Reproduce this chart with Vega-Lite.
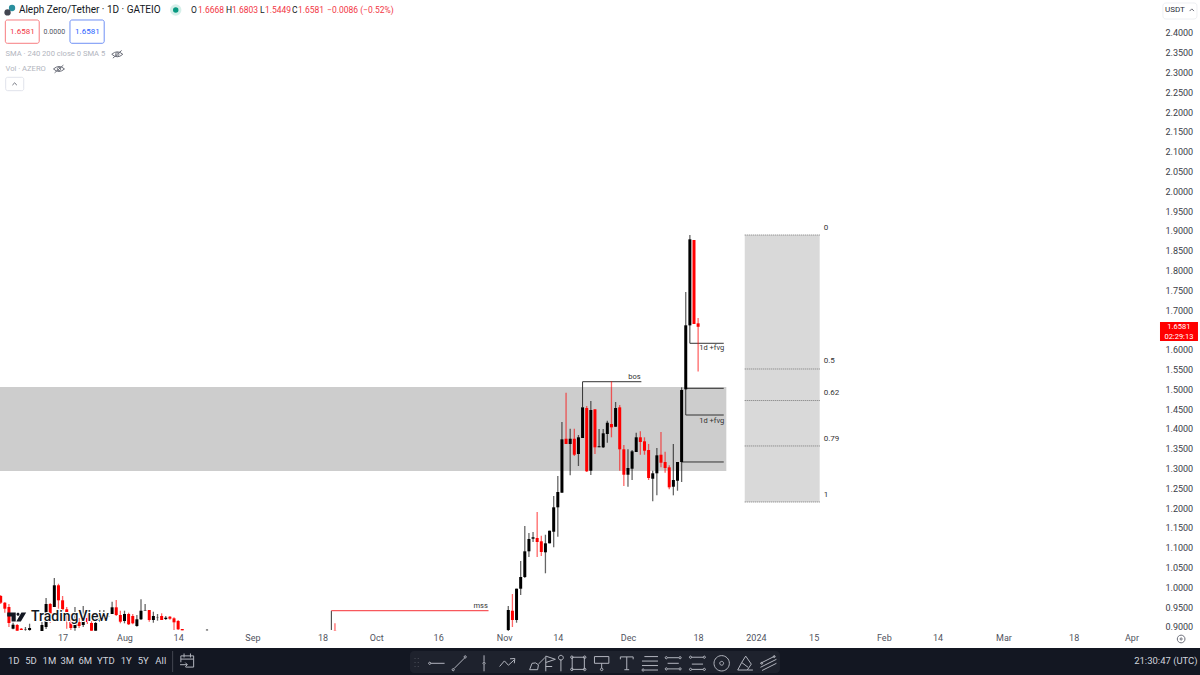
{
"$schema":"https://vega.github.io/schema/vega-lite/v6.json",
"width":1155,"height":630,
"autosize":{"type":"none"},
"padding":{"left":0,"top":0,"right":45,"bottom":45},
"background":"#ffffff",
"config":{"view":{"stroke":null},"text":{"font":"Roboto"},"axis":{"labelFont":"Roboto"}},
"datasets":{
"candles":[
{"date":"2023-07-02T00:00","o":0.9783,"h":0.9808,"l":0.9581,"c":0.9613,"dir":"down"},
{"date":"2023-07-03T00:00","o":0.9613,"h":0.9631,"l":0.9361,"c":0.9462,"dir":"down"},
{"date":"2023-07-04T00:00","o":0.9505,"h":0.9581,"l":0.9000,"c":0.9101,"dir":"down"},
{"date":"2023-07-05T00:00","o":0.8957,"h":0.9108,"l":0.8942,"c":0.9058,"dir":"up"},
{"date":"2023-07-06T00:00","o":0.9050,"h":0.9076,"l":0.8906,"c":0.8906,"dir":"down"},
{"date":"2023-07-07T00:00","o":0.8957,"h":0.8974,"l":0.8924,"c":0.8924,"dir":"down"},
{"date":"2023-07-08T00:00","o":0.8924,"h":0.9000,"l":0.8906,"c":0.8932,"dir":"up"},
{"date":"2023-07-09T00:00","o":0.8924,"h":0.9083,"l":0.8906,"c":0.8974,"dir":"up"},
{"date":"2023-07-12T00:00","o":0.8899,"h":0.9126,"l":0.8899,"c":0.9050,"dir":"up"},
{"date":"2023-07-13T00:00","o":0.9000,"h":0.9732,"l":0.8949,"c":0.9581,"dir":"up"},
{"date":"2023-07-14T00:00","o":0.9581,"h":0.9606,"l":0.9108,"c":0.9336,"dir":"down"},
{"date":"2023-07-15T00:00","o":0.9505,"h":1.0237,"l":0.9505,"c":1.0053,"dir":"up"},
{"date":"2023-07-16T00:00","o":1.0053,"h":1.0093,"l":0.9462,"c":0.9674,"dir":"down"},
{"date":"2023-07-17T00:00","o":0.9674,"h":0.9783,"l":0.9404,"c":0.9447,"dir":"down"},
{"date":"2023-07-18T00:00","o":0.9447,"h":0.9505,"l":0.8957,"c":0.9303,"dir":"down"},
{"date":"2023-07-19T00:00","o":0.9303,"h":0.9323,"l":0.8924,"c":0.8974,"dir":"down"},
{"date":"2023-07-20T00:00","o":0.8974,"h":0.9505,"l":0.8906,"c":0.9101,"dir":"up"},
{"date":"2023-07-21T00:00","o":0.9126,"h":0.9227,"l":0.8974,"c":0.9025,"dir":"down"},
{"date":"2023-07-22T00:00","o":0.9050,"h":0.9530,"l":0.9000,"c":0.9151,"dir":"up"},
{"date":"2023-07-23T00:00","o":0.9227,"h":0.9328,"l":0.9076,"c":0.9126,"dir":"down"},
{"date":"2023-07-24T00:00","o":0.9101,"h":0.9151,"l":0.8906,"c":0.8906,"dir":"down"},
{"date":"2023-07-25T00:00","o":0.8906,"h":0.9379,"l":0.8906,"c":0.9101,"dir":"up"},
{"date":"2023-07-26T00:00","o":0.9151,"h":0.9429,"l":0.9126,"c":0.9227,"dir":"up"},
{"date":"2023-07-27T00:00","o":0.9202,"h":0.9429,"l":0.9177,"c":0.9278,"dir":"up"},
{"date":"2023-07-28T00:00","o":0.9270,"h":0.9379,"l":0.9252,"c":0.9278,"dir":"up"},
{"date":"2023-07-29T00:00","o":0.9328,"h":0.9639,"l":0.9328,"c":0.9497,"dir":"up"},
{"date":"2023-07-30T00:00","o":0.9497,"h":0.9682,"l":0.9278,"c":0.9303,"dir":"down"},
{"date":"2023-07-31T00:00","o":0.9303,"h":0.9411,"l":0.9093,"c":0.9134,"dir":"down"},
{"date":"2023-08-01T00:00","o":0.9151,"h":0.9411,"l":0.9093,"c":0.9328,"dir":"up"},
{"date":"2023-08-02T00:00","o":0.9328,"h":0.9361,"l":0.9050,"c":0.9068,"dir":"down"},
{"date":"2023-08-03T00:00","o":0.9278,"h":0.9328,"l":0.9068,"c":0.9093,"dir":"down"},
{"date":"2023-08-04T00:00","o":0.9025,"h":0.9303,"l":0.9007,"c":0.9194,"dir":"up"},
{"date":"2023-08-05T00:00","o":0.9194,"h":0.9699,"l":0.9177,"c":0.9411,"dir":"up"},
{"date":"2023-08-06T00:00","o":0.9411,"h":0.9581,"l":0.9411,"c":0.9421,"dir":"up"},
{"date":"2023-08-07T00:00","o":0.9429,"h":0.9429,"l":0.9134,"c":0.9177,"dir":"down"},
{"date":"2023-08-08T00:00","o":0.9177,"h":0.9386,"l":0.9108,"c":0.9278,"dir":"up"},
{"date":"2023-08-09T00:00","o":0.9245,"h":0.9328,"l":0.9159,"c":0.9250,"dir":"up"},
{"date":"2023-08-10T00:00","o":0.9278,"h":0.9346,"l":0.9177,"c":0.9177,"dir":"down"},
{"date":"2023-08-11T00:00","o":0.9202,"h":0.9278,"l":0.9177,"c":0.9235,"dir":"up"},
{"date":"2023-08-12T00:00","o":0.9260,"h":0.9278,"l":0.9185,"c":0.9209,"dir":"down"},
{"date":"2023-08-13T00:00","o":0.9219,"h":0.9245,"l":0.8924,"c":0.9118,"dir":"down"},
{"date":"2023-08-14T00:00","o":0.9151,"h":0.9177,"l":0.8924,"c":0.8942,"dir":"down"},
{"date":"2023-08-15T00:00","o":0.8949,"h":0.8949,"l":0.8916,"c":0.8916,"dir":"down"},
{"date":"2023-08-21T00:00","o":0.8922,"h":0.8949,"l":0.8906,"c":0.8926,"dir":"up"},
{"date":"2023-09-21T00:00","o":0.8924,"h":0.9093,"l":0.8906,"c":0.8920,"dir":"down"},
{"date":"2023-11-02T00:00","o":0.8924,"h":0.9530,"l":0.8899,"c":0.9429,"dir":"up"},
{"date":"2023-11-03T00:00","o":0.9411,"h":0.9833,"l":0.9000,"c":0.9177,"dir":"down"},
{"date":"2023-11-04T00:00","o":0.9177,"h":0.9967,"l":0.9108,"c":0.9967,"dir":"up"},
{"date":"2023-11-05T00:00","o":0.9967,"h":1.0666,"l":0.9808,"c":1.0262,"dir":"up"},
{"date":"2023-11-06T00:00","o":1.0262,"h":1.1550,"l":1.0237,"c":1.0911,"dir":"up"},
{"date":"2023-11-07T00:00","o":1.0911,"h":1.1373,"l":1.0767,"c":1.1222,"dir":"up"},
{"date":"2023-11-08T00:00","o":1.1230,"h":1.1399,"l":1.1146,"c":1.1265,"dir":"up"},
{"date":"2023-11-09T00:00","o":1.1247,"h":1.1904,"l":1.0767,"c":1.1146,"dir":"down"},
{"date":"2023-11-10T00:00","o":1.1164,"h":1.1305,"l":1.0793,"c":1.0894,"dir":"down"},
{"date":"2023-11-11T00:00","o":1.0886,"h":1.1330,"l":1.0356,"c":1.1113,"dir":"up"},
{"date":"2023-11-12T00:00","o":1.1113,"h":1.1431,"l":1.1113,"c":1.1431,"dir":"up"},
{"date":"2023-11-13T00:00","o":1.1406,"h":1.2308,"l":1.1012,"c":1.2022,"dir":"up"},
{"date":"2023-11-14T00:00","o":1.2022,"h":1.2813,"l":1.1280,"c":1.2409,"dir":"up"},
{"date":"2023-11-15T00:00","o":1.2391,"h":1.4176,"l":1.2391,"c":1.3739,"dir":"up"},
{"date":"2023-11-16T00:00","o":1.3754,"h":1.4916,"l":1.3621,"c":1.3621,"dir":"down"},
{"date":"2023-11-17T00:00","o":1.3621,"h":1.4007,"l":1.2830,"c":1.3754,"dir":"up"},
{"date":"2023-11-18T00:00","o":1.3754,"h":1.4007,"l":1.3318,"c":1.3350,"dir":"down"},
{"date":"2023-11-19T00:00","o":1.3368,"h":1.3848,"l":1.3065,"c":1.3790,"dir":"up"},
{"date":"2023-11-20T00:00","o":1.3772,"h":1.4547,"l":1.3772,"c":1.4547,"dir":"up"},
{"date":"2023-11-21T00:00","o":1.4530,"h":1.4580,"l":1.2914,"c":1.2931,"dir":"down"},
{"date":"2023-11-22T00:00","o":1.2946,"h":1.4706,"l":1.2838,"c":1.4479,"dir":"up"},
{"date":"2023-11-23T00:00","o":1.4497,"h":1.4497,"l":1.3368,"c":1.3537,"dir":"down"},
{"date":"2023-11-24T00:00","o":1.3540,"h":1.3999,"l":1.3537,"c":1.3562,"dir":"up"},
{"date":"2023-11-25T00:00","o":1.3537,"h":1.3999,"l":1.3520,"c":1.3891,"dir":"up"},
{"date":"2023-11-26T00:00","o":1.3873,"h":1.4209,"l":1.3653,"c":1.4158,"dir":"up"},
{"date":"2023-11-27T00:00","o":1.4126,"h":1.5204,"l":1.3790,"c":1.4042,"dir":"down"},
{"date":"2023-11-28T00:00","o":1.4057,"h":1.4681,"l":1.4057,"c":1.4530,"dir":"up"},
{"date":"2023-11-29T00:00","o":1.4547,"h":1.4605,"l":1.2946,"c":1.3487,"dir":"down"},
{"date":"2023-11-30T00:00","o":1.3487,"h":1.3595,"l":1.2560,"c":1.2845,"dir":"down"},
{"date":"2023-12-01T00:00","o":1.2845,"h":1.3487,"l":1.2542,"c":1.3015,"dir":"up"},
{"date":"2023-12-02T00:00","o":1.2997,"h":1.3469,"l":1.2712,"c":1.3436,"dir":"up"},
{"date":"2023-12-03T00:00","o":1.3419,"h":1.3906,"l":1.3419,"c":1.3790,"dir":"up"},
{"date":"2023-12-04T00:00","o":1.3790,"h":1.3941,"l":1.3350,"c":1.3671,"dir":"down"},
{"date":"2023-12-05T00:00","o":1.3689,"h":1.3790,"l":1.3350,"c":1.3451,"dir":"down"},
{"date":"2023-12-06T00:00","o":1.3469,"h":1.3621,"l":1.2712,"c":1.2762,"dir":"down"},
{"date":"2023-12-07T00:00","o":1.2744,"h":1.2946,"l":1.2174,"c":1.2881,"dir":"up"},
{"date":"2023-12-08T00:00","o":1.2881,"h":1.3520,"l":1.2325,"c":1.3335,"dir":"up"},
{"date":"2023-12-09T00:00","o":1.3350,"h":1.3924,"l":1.3032,"c":1.3148,"dir":"down"},
{"date":"2023-12-10T00:00","o":1.3166,"h":1.3426,"l":1.2896,"c":1.3015,"dir":"down"},
{"date":"2023-12-11T00:00","o":1.3032,"h":1.3083,"l":1.2477,"c":1.2527,"dir":"down"},
{"date":"2023-12-12T00:00","o":1.2542,"h":1.3621,"l":1.2325,"c":1.2712,"dir":"up"},
{"date":"2023-12-13T00:00","o":1.2694,"h":1.3166,"l":1.2441,"c":1.3166,"dir":"up"},
{"date":"2023-12-14T00:00","o":1.3166,"h":1.5052,"l":1.2661,"c":1.4984,"dir":"up"},
{"date":"2023-12-15T00:00","o":1.5002,"h":1.7459,"l":1.4984,"c":1.6618,"dir":"up"},
{"date":"2023-12-16T00:00","o":1.6618,"h":1.8898,"l":1.6618,"c":1.8789,"dir":"up"},
{"date":"2023-12-17T00:00","o":1.8772,"h":1.8772,"l":1.6651,"c":1.6651,"dir":"down"},
{"date":"2023-12-18T00:00","o":1.6668,"h":1.6803,"l":1.5449,"c":1.6581,"dir":"down"}
],
"zones":[{"date":"2023-07-01T00:00","date2":"2023-12-24T20:00","p":1.506,"p2":1.2939}],
"fib":[{"date":"2023-12-29T07:00","date2":"2024-01-16T11:00","p":1.8899,"p2":1.2156}],
"fibLevels":[
{"date":"2023-12-29T07:00","date2":"2024-01-16T11:00","p":1.8899},
{"date":"2023-12-29T07:00","date2":"2024-01-16T11:00","p":1.5515},
{"date":"2023-12-29T07:00","date2":"2024-01-16T11:00","p":1.4719},
{"date":"2023-12-29T07:00","date2":"2024-01-16T11:00","p":1.3571},
{"date":"2023-12-29T07:00","date2":"2024-01-16T11:00","p":1.2156}
],
"segments":[
{"date":"2023-11-20T00:00","date2":"2023-11-20T00:00","p":1.4555,"p2":1.5194},
{"date":"2023-11-20T00:00","date2":"2023-12-04T06:00","p":1.5194,"p2":1.5194},
{"date":"2023-12-16T00:00","date2":"2023-12-16T00:00","p":1.6626,"p2":1.6164},
{"date":"2023-12-16T00:00","date2":"2023-12-24T05:00","p":1.6164,"p2":1.6164},
{"date":"2023-12-15T00:00","date2":"2023-12-15T00:00","p":1.4985,"p2":1.4353},
{"date":"2023-12-15T00:00","date2":"2023-12-24T05:00","p":1.4353,"p2":1.4353},
{"date":"2023-12-15T00:00","date2":"2023-12-24T05:00","p":1.5027,"p2":1.5027},
{"date":"2023-12-14T00:00","date2":"2023-12-24T05:00","p":1.3167,"p2":1.3167},
{"date":"2023-09-20T03:00","date2":"2023-09-20T03:00","p":0.9411,"p2":0.8924}
],
"mss":[{"date":"2023-09-20T03:00","date2":"2023-10-28T05:00","p":0.9411}],
"smallLabels":[
{"date":"2023-12-02T14:00","p":1.5320,"label":"bos"},
{"date":"2023-12-21T07:00","p":1.6045,"label":"1d +fvg"},
{"date":"2023-12-21T07:00","p":1.4202,"label":"1d +fvg"},
{"date":"2023-10-26T07:00","p":0.9530,"label":"mss"}
],
"fibLabels":[
{"date":"2024-01-17T10:00","p":1.9075,"label":"0"},
{"date":"2024-01-17T10:00","p":1.5717,"label":"0.5"},
{"date":"2024-01-17T10:00","p":1.4909,"label":"0.62"},
{"date":"2024-01-17T10:00","p":1.3747,"label":"0.79"},
{"date":"2024-01-17T10:00","p":1.2333,"label":"1"}
],
"bottomBar":[{"date":"2023-07-01T00:00","date2":"2024-04-19T00:00","p":0.8469,"p2":0.7788}],
"toolbar":[{"date":"2023-10-09T04:00","date2":"2024-01-06T20:00","p":0.8394,"p2":0.7838}],
"priceTag":[{"date":"2024-04-07T22:00","date2":"2024-04-17T03:00","p":1.6702,"p2":1.6222}],
"priceTagText":[
{"date":"2024-04-12T12:00","p":1.6588,"label":"1.6581"},
{"date":"2024-04-12T12:00","p":1.6330,"label":"02:29:13"}
],
"title":[{"date":"2023-07-06T10:00","p":2.4581,"label":"Aleph Zero/Tether · 1D · GATEIO"}],
"ohlcLetters":[
{"date":"2023-08-17T03:00","p":2.4581,"label":"O"},
{"date":"2023-08-25T14:00","p":2.4581,"label":"H"},
{"date":"2023-09-02T20:00","p":2.4581,"label":"L"},
{"date":"2023-09-10T14:00","p":2.4581,"label":"C"}
],
"ohlcValues":[
{"date":"2023-08-18T19:00","p":2.4581,"label":"1.6668"},
{"date":"2023-08-27T01:00","p":2.4581,"label":"1.6803"},
{"date":"2023-09-04T01:00","p":2.4581,"label":"1.5449"},
{"date":"2023-09-12T01:00","p":2.4581,"label":"1.6581"},
{"date":"2023-09-19T02:00","p":2.4581,"label":"−0.0086 (−0.52%)"}
],
"sellBox":[{"date":"2023-07-03T03:00","date2":"2023-07-11T08:00","p":2.4328,"p2":2.3740}],
"buyBox":[{"date":"2023-07-18T19:00","date2":"2023-07-27T02:00","p":2.4328,"p2":2.3740}],
"collapseBox":[{"date":"2023-07-03T05:00","date2":"2023-07-07T14:00","p":2.2881,"p2":2.2543}],
"usdBox":[{"date":"2024-04-08T15:00","date2":"2024-04-16T21:00","p":2.4758,"p2":2.4353}],
"sellText":[{"date":"2023-07-07T06:00","p":2.4025,"label":"1.6581"}],
"buyText":[{"date":"2023-07-23T00:00","p":2.4025,"label":"1.6581"}],
"midText":[{"date":"2023-07-15T00:00","p":2.4025,"label":"0.0000"}],
"mutedText":[
{"date":"2023-07-03T04:00","p":2.3462,"label":"SMA · 240 200 close 0 SMA 5"},
{"date":"2023-07-03T04:00","p":2.3091,"label":"Vol · AZERO"}
],
"usdText":[{"date":"2024-04-09T03:00","p":2.4581,"label":"USDT"}],
"ranges":[
{"date":"2023-07-05T04:00","p":0.8149,"label":"1D"},
{"date":"2023-07-09T08:00","p":0.8149,"label":"5D"},
{"date":"2023-07-13T19:00","p":0.8149,"label":"1M"},
{"date":"2023-07-18T03:00","p":0.8149,"label":"3M"},
{"date":"2023-07-22T12:00","p":0.8149,"label":"6M"},
{"date":"2023-07-27T12:00","p":0.8149,"label":"YTD"},
{"date":"2023-08-01T10:00","p":0.8149,"label":"1Y"},
{"date":"2023-08-05T13:00","p":0.8149,"label":"5Y"},
{"date":"2023-08-09T19:00","p":0.8149,"label":"All"},
{"date":"2024-04-09T08:00","p":0.8149,"label":"21:30:47 (UTC)"}
],
"separator":[{"date":"2023-08-12T16:00","p":0.8394,"p2":0.7863}],
"watermark":[{"date":"2023-07-09T08:00","p":0.9252,"label":"TradingView"}],
"wmLogo":[{"date":"2023-07-05T21:00","p":0.9252}],
"lightIcons":[
{"date":"2023-08-16T05:00","p":0.8149,"icon":"calendar"},
{"date":"2023-10-10T19:00","p":0.8083,"icon":"grip"},
{"date":"2023-10-15T15:00","p":0.8083,"icon":"hline"},
{"date":"2023-10-21T03:00","p":0.8083,"icon":"trend"},
{"date":"2023-10-27T03:00","p":0.8083,"icon":"vline"},
{"date":"2023-11-01T20:00","p":0.8083,"icon":"zig"},
{"date":"2023-11-08T22:00","p":0.8083,"icon":"brush"},
{"date":"2023-11-12T06:00","p":0.8083,"icon":"flag"},
{"date":"2023-11-14T18:00","p":0.8083,"icon":"arrow"},
{"date":"2023-11-18T23:00","p":0.8083,"icon":"square"},
{"date":"2023-11-24T15:00","p":0.8083,"icon":"sign"},
{"date":"2023-11-30T17:00","p":0.8083,"icon":"textT"},
{"date":"2023-12-06T08:00","p":0.8083,"icon":"fib"},
{"date":"2023-12-11T23:00","p":0.8083,"icon":"range"},
{"date":"2023-12-17T20:00","p":0.8083,"icon":"range2"},
{"date":"2023-12-23T17:00","p":0.8083,"icon":"circle"},
{"date":"2023-12-29T08:00","p":0.8083,"icon":"eraser"},
{"date":"2024-01-04T01:00","p":0.8083,"icon":"channel"}
],
"greyIcons":[
{"date":"2023-07-30T06:00","p":2.3462,"icon":"eye"},
{"date":"2023-07-16T03:00","p":2.3091,"icon":"eye"},
{"date":"2023-07-05T09:00","p":2.2712,"icon":"chev"},
{"date":"2024-04-15T15:00","p":2.4581,"icon":"chev"},
{"date":"2024-04-13T01:00","p":0.8697,"icon":"circle"}
],
"liveDot":[{"date":"2023-08-13T10:00","p":2.4581}],
"logoA":[{"date":"2023-07-04T18:00","p":2.4631}],
"logoB":[{"date":"2023-07-03T16:00","p":2.4520}]
},
"encoding":{
 "x":{"field":"date","type":"temporal","title":null,"scale":{"domain":[{"year":2023,"month":7,"date":1,"hours":20},{"year":2024,"month":4,"date":6,"hours":17}],"nice":false},
   "axis":{"values":[{"year":2023,"month":7,"date":17},{"year":2023,"month":8,"date":1},{"year":2023,"month":8,"date":14},{"year":2023,"month":9,"date":1},{"year":2023,"month":9,"date":18},{"year":2023,"month":10,"date":1},{"year":2023,"month":10,"date":16},{"year":2023,"month":11,"date":1},{"year":2023,"month":11,"date":14},{"year":2023,"month":12,"date":1},{"year":2023,"month":12,"date":18},{"year":2024,"month":1,"date":1},{"year":2024,"month":1,"date":15},{"year":2024,"month":2,"date":1},{"year":2024,"month":2,"date":14},{"year":2024,"month":3,"date":1},{"year":2024,"month":3,"date":18},{"year":2024,"month":4,"date":1}],
    "labelExpr":"date(datum.value)==1 ? (month(datum.value)==0 ? timeFormat(datum.value,'%Y') : timeFormat(datum.value,'%b')) : timeFormat(datum.value,'%-d')",
    "domain":false,"ticks":false,"grid":false,"labelFontSize":9,"labelColor":"#50535e","labelPadding":3,"labelAngle":0,"labelOverlap":false,"labelFlush":false}},
 "y":{"field":"p","type":"quantitative","title":null,"scale":{"domain":[0.8924,2.4833],"nice":false,"zero":false},
   "axis":{"orient":"right","values":[0.9,0.95,1,1.05,1.1,1.15,1.2,1.25,1.3,1.35,1.4,1.45,1.5,1.55,1.6,1.65,1.7,1.75,1.8,1.85,1.9,1.95,2,2.05,2.1,2.15,2.2,2.25,2.3,2.35,2.4],"format":".4f","domain":false,"ticks":false,"grid":false,"labelFontSize":9,"labelColor":"#3a3d48","labelPadding":10,"labelOverlap":false,"labelFlush":false}}
},
"layer":[
{"data":{"name":"zones"},"mark":{"type":"rect","color":"#cdcdcd"},"encoding":{"x2":{"field":"date2"},"y2":{"field":"p2"}}},
{"data":{"name":"fib"},"mark":{"type":"rect","color":"#d9d9d9"},"encoding":{"x2":{"field":"date2"},"y2":{"field":"p2"}}},
{"data":{"name":"fibLevels"},"mark":{"type":"rule","color":"#777777","strokeWidth":1,"strokeDash":[1,1]},"encoding":{"x2":{"field":"date2"}}},
{"data":{"name":"segments"},"mark":{"type":"rule","color":"#333333","strokeWidth":1},"encoding":{"x2":{"field":"date2"},"y2":{"field":"p2"}}},
{"data":{"name":"mss"},"mark":{"type":"rule","color":"#f8585c","strokeWidth":1.3},"encoding":{"x2":{"field":"date2"}}},
{"data":{"name":"candles"},"mark":{"type":"rule","strokeWidth":1.3,"opacity":0.6},
 "encoding":{"y":{"field":"l","type":"quantitative","title":null,"axis":{"orient":"right","values":[0.9,0.95,1,1.05,1.1,1.15,1.2,1.25,1.3,1.35,1.4,1.45,1.5,1.55,1.6,1.65,1.7,1.75,1.8,1.85,1.9,1.95,2,2.05,2.1,2.15,2.2,2.25,2.3,2.35,2.4],"format":".4f","domain":false,"ticks":false,"grid":false,"labelFontSize":9,"labelColor":"#3a3d48","labelPadding":10,"labelOverlap":false,"labelFlush":false}},"y2":{"field":"h"},
  "color":{"field":"dir","type":"nominal","scale":{"domain":["up","down"],"range":["#000000","#ff0000"]},"legend":null}}},
{"data":{"name":"candles"},"mark":{"type":"rule","strokeWidth":3},
 "encoding":{"y":{"field":"o","type":"quantitative","title":null,"axis":{"orient":"right","values":[0.9,0.95,1,1.05,1.1,1.15,1.2,1.25,1.3,1.35,1.4,1.45,1.5,1.55,1.6,1.65,1.7,1.75,1.8,1.85,1.9,1.95,2,2.05,2.1,2.15,2.2,2.25,2.3,2.35,2.4],"format":".4f","domain":false,"ticks":false,"grid":false,"labelFontSize":9,"labelColor":"#3a3d48","labelPadding":10,"labelOverlap":false,"labelFlush":false}},"y2":{"field":"c"},
  "color":{"field":"dir","type":"nominal","scale":{"domain":["up","down"],"range":["#000000","#ff0000"]},"legend":null}}},
{"data":{"name":"smallLabels"},"mark":{"type":"text","fontSize":7.5,"color":"#333333","align":"center","baseline":"middle"},"encoding":{"text":{"field":"label"}}},
{"data":{"name":"fibLabels"},"mark":{"type":"text","fontSize":8,"color":"#333333","align":"left","baseline":"middle"},"encoding":{"text":{"field":"label"}}},
{"data":{"name":"watermark"},"mark":{"type":"text","fontSize":14,"fontWeight":500,"color":"#ffffff","stroke":"#ffffff","strokeWidth":2,"align":"left","baseline":"middle"},"encoding":{"text":{"field":"label"}}},
{"data":{"name":"watermark"},"mark":{"type":"text","fontSize":14,"fontWeight":500,"color":"#131722","align":"left","baseline":"middle"},"encoding":{"text":{"field":"label"}}},
{"data":{"name":"wmLogo"},"mark":{"type":"point","filled":true,"color":"#131722","opacity":1,"size":1444,"shape":"M-.5,-.24 H-.05 V.24 H-.27 V-.03 H-.5 Z M-.01,-.14 a.08,.08 0 1,0 .16,0 a.08,.08 0 1,0 -.16,0 M.5,-.24 L.22,.24 H-.02 L.25,-.24 Z"}},
{"data":{"name":"priceTag"},"mark":{"type":"rect","color":"#ff0000"},"encoding":{"x2":{"field":"date2"},"y2":{"field":"p2"}}},
{"data":{"name":"priceTagText"},"mark":{"type":"text","fontSize":7.5,"color":"#ffffff","align":"center","baseline":"middle"},"encoding":{"text":{"field":"label"}}},
{"data":{"name":"title"},"mark":{"type":"text","fontSize":10,"color":"#131722","align":"left","baseline":"middle"},"encoding":{"text":{"field":"label"}}},
{"data":{"name":"ohlcLetters"},"mark":{"type":"text","fontSize":8.5,"color":"#131722","align":"left","baseline":"middle"},"encoding":{"text":{"field":"label"}}},
{"data":{"name":"ohlcValues"},"mark":{"type":"text","fontSize":8.5,"color":"#f23645","align":"left","baseline":"middle"},"encoding":{"text":{"field":"label"}}},
{"data":{"name":"sellBox"},"mark":{"type":"rect","fill":"#ffffff","stroke":"#f77c80","strokeWidth":1,"cornerRadius":2},"encoding":{"x2":{"field":"date2"},"y2":{"field":"p2"}}},
{"data":{"name":"buyBox"},"mark":{"type":"rect","fill":"#ffffff","stroke":"#6f90f5","strokeWidth":1,"cornerRadius":2},"encoding":{"x2":{"field":"date2"},"y2":{"field":"p2"}}},
{"data":{"name":"collapseBox"},"mark":{"type":"rect","fill":"#ffffff","stroke":"#e0e3eb","strokeWidth":1,"cornerRadius":2},"encoding":{"x2":{"field":"date2"},"y2":{"field":"p2"}}},
{"data":{"name":"usdBox"},"mark":{"type":"rect","fill":"#ffffff","stroke":"#eef0f3","strokeWidth":1,"cornerRadius":3},"encoding":{"x2":{"field":"date2"},"y2":{"field":"p2"}}},
{"data":{"name":"sellText"},"mark":{"type":"text","fontSize":8,"color":"#f23645","align":"center","baseline":"middle"},"encoding":{"text":{"field":"label"}}},
{"data":{"name":"buyText"},"mark":{"type":"text","fontSize":8,"color":"#2962ff","align":"center","baseline":"middle"},"encoding":{"text":{"field":"label"}}},
{"data":{"name":"midText"},"mark":{"type":"text","fontSize":7,"color":"#50535e","align":"center","baseline":"middle"},"encoding":{"text":{"field":"label"}}},
{"data":{"name":"mutedText"},"mark":{"type":"text","fontSize":7.6,"color":"#b2b5be","align":"left","baseline":"middle"},"encoding":{"text":{"field":"label"}}},
{"data":{"name":"usdText"},"mark":{"type":"text","fontSize":8,"color":"#2a2e39","align":"left","baseline":"middle"},"encoding":{"text":{"field":"label"}}},
{"data":{"name":"greyIcons"},"mark":{"type":"point","filled":false,"stroke":"#6a6d78","strokeWidth":1,"size":484,"opacity":1},
 "encoding":{"shape":{"field":"icon","type":"nominal","legend":null,"scale":{"domain":["eye","chev","circle"],"range":["M-.5,0 Q0,-.45 .5,0 Q0,.45 -.5,0 Z M-.15,0 a.15,.15 0 1,0 .3,0 a.15,.15 0 1,0 -.3,0 M-.4,.35 L.4,-.35","M-.2,.1 L0,-.1 L.2,.1","M-.35,0 a.35,.35 0 1,0 .7,0 a.35,.35 0 1,0 -.7,0 M-.1,0 a.1,.1 0 1,0 .2,0 a.1,.1 0 1,0 -.2,0"]}}}},
{"data":{"name":"liveDot"},"mark":{"type":"circle","color":"#d5efe9","size":130,"opacity":1}},
{"data":{"name":"liveDot"},"mark":{"type":"circle","color":"#089981","size":30,"opacity":1}},
{"data":{"name":"logoA"},"mark":{"type":"circle","color":"#2a8f9e","size":40,"opacity":1}},
{"data":{"name":"logoB"},"mark":{"type":"circle","color":"#434651","size":40,"opacity":1}},
{"data":{"name":"bottomBar"},"mark":{"type":"rect","color":"#131722"},"encoding":{"x2":{"field":"date2"},"y2":{"field":"p2"}}},
{"data":{"name":"toolbar"},"mark":{"type":"rect","color":"#1e222d","cornerRadius":4},"encoding":{"x2":{"field":"date2"},"y2":{"field":"p2"}}},
{"data":{"name":"separator"},"mark":{"type":"rule","color":"#434651","strokeWidth":1},"encoding":{"y2":{"field":"p2"}}},
{"data":{"name":"ranges"},"mark":{"type":"text","fontSize":9.5,"color":"#d1d4dc","align":"center","baseline":"middle"},"encoding":{"text":{"field":"label"}}},
{"data":{"name":"lightIcons"},"mark":{"type":"point","filled":false,"stroke":"#b2b5be","strokeWidth":1,"size":1024,"opacity":1},
 "encoding":{
  "shape":{"field":"icon","type":"nominal","legend":null,"scale":{
   "domain":["calendar","grip","hline","trend","vline","zig","brush","flag","arrow","square","sign","textT","fib","range","range2","circle","eraser","channel"],
   "range":[
    "M-.4,-.3 H.4 V.4 H-.1 M-.4,-.3 V.1 M-.4,-.1 H.4 M-.2,-.45 V-.2 M.2,-.45 V-.2 M-.45,.25 H0 M-.12,.12 L0,.25 L-.12,.38",
    "M-.1,-.3 V-.28 M.1,-.3 V-.28 M-.1,-.05 V-.03 M.1,-.05 V-.03 M-.1,.2 V.22 M.1,.2 V.22",
    "M-.5,0 a.07,.07 0 1,0 .14,0 a.07,.07 0 1,0 -.14,0 M-.36,0 H.5",
    "M-.45,.4 a.07,.07 0 1,0 .14,0 a.07,.07 0 1,0 -.14,0 M-.33,.33 L.33,-.33 M.3,-.4 a.07,.07 0 1,0 .14,0 a.07,.07 0 1,0 -.14,0",
    "M0,-.5 V-.1 M0,.1 V.5 M-.07,0 a.07,.07 0 1,0 .14,0 a.07,.07 0 1,0 -.14,0",
    "M-.5,.2 L-.2,-.15 L.05,.12 L.4,-.2 M.15,-.28 L.45,-.3 L.42,0",
    "M-.45,.4 L-.3,0 Q-.05,-.1 .1,.1 L.05,.4 Z M.1,.05 L.5,-.35",
    "M-.3,.5 V-.45 L.3,-.25 L-.3,-.05 M-.3,.2 H.1",
    "M0,.5 V-.25 M-.15,-.35 a.15,.15 0 1,0 .3,0 a.15,.15 0 1,0 -.3,0",
    "M-.38,-.38 H.38 V.38 H-.38 Z M-.48,-.38 a.08,.08 0 1,0 .16,0 a.08,.08 0 1,0 -.16,0 M.32,-.38 a.08,.08 0 1,0 .16,0 a.08,.08 0 1,0 -.16,0 M-.48,.38 a.08,.08 0 1,0 .16,0 a.08,.08 0 1,0 -.16,0 M.32,.38 a.08,.08 0 1,0 .16,0 a.08,.08 0 1,0 -.16,0",
    "M-.45,-.42 H.45 V0 H-.45 Z M0,0 V.3 M-.08,.38 a.08,.08 0 1,0 .16,0 a.08,.08 0 1,0 -.16,0",
    "M-.4,-.25 V-.4 H.4 V-.25 M0,-.4 V.4 M-.15,.4 H.15",
    "M-.35,-.42 H.5 M-.5,-.14 H.5 M-.5,.14 H.5 M-.35,.42 H.5 M-.5,.42 a.07,.07 0 1,0 .14,0 a.07,.07 0 1,0 -.14,0",
    "M-.35,-.35 H.35 M-.35,.35 H.35 M-.35,0 H.35 M-.5,-.35 a.07,.07 0 1,0 .14,0 a.07,.07 0 1,0 -.14,0 M.36,-.35 a.07,.07 0 1,0 .14,0 a.07,.07 0 1,0 -.14,0 M-.5,.35 a.07,.07 0 1,0 .14,0 a.07,.07 0 1,0 -.14,0 M.36,.35 a.07,.07 0 1,0 .14,0 a.07,.07 0 1,0 -.14,0",
    "M-.35,-.38 H.35 M-.35,.38 H.35 M-.35,.05 H.35 M-.5,-.38 a.07,.07 0 1,0 .14,0 a.07,.07 0 1,0 -.14,0 M.36,-.38 a.07,.07 0 1,0 .14,0 a.07,.07 0 1,0 -.14,0 M-.5,.38 a.07,.07 0 1,0 .14,0 a.07,.07 0 1,0 -.14,0 M.36,.38 a.07,.07 0 1,0 .14,0 a.07,.07 0 1,0 -.14,0",
    "M-.48,0 a.48,.48 0 1,0 .96,0 a.48,.48 0 1,0 -.96,0 M-.12,0 a.12,.12 0 1,0 .24,0 a.12,.12 0 1,0 -.24,0",
    "M-.45,.42 L-.2,-.05 L.05,-.45 L.4,.05 L.15,.42 Z M-.2,-.05 L.2,.25 M.15,.42 H.5",
    "M-.5,0 L.4,-.45 M-.5,.25 L.5,-.25 M-.4,.45 L.5,0 M-.48,0 a.06,.06 0 1,0 .12,0 a.06,.06 0 1,0 -.12,0 M.3,-.42 a.06,.06 0 1,0 .12,0 a.06,.06 0 1,0 -.12,0"
   ]}}}}
],
"resolve":{"scale":{"shape":"independent"}}
}
